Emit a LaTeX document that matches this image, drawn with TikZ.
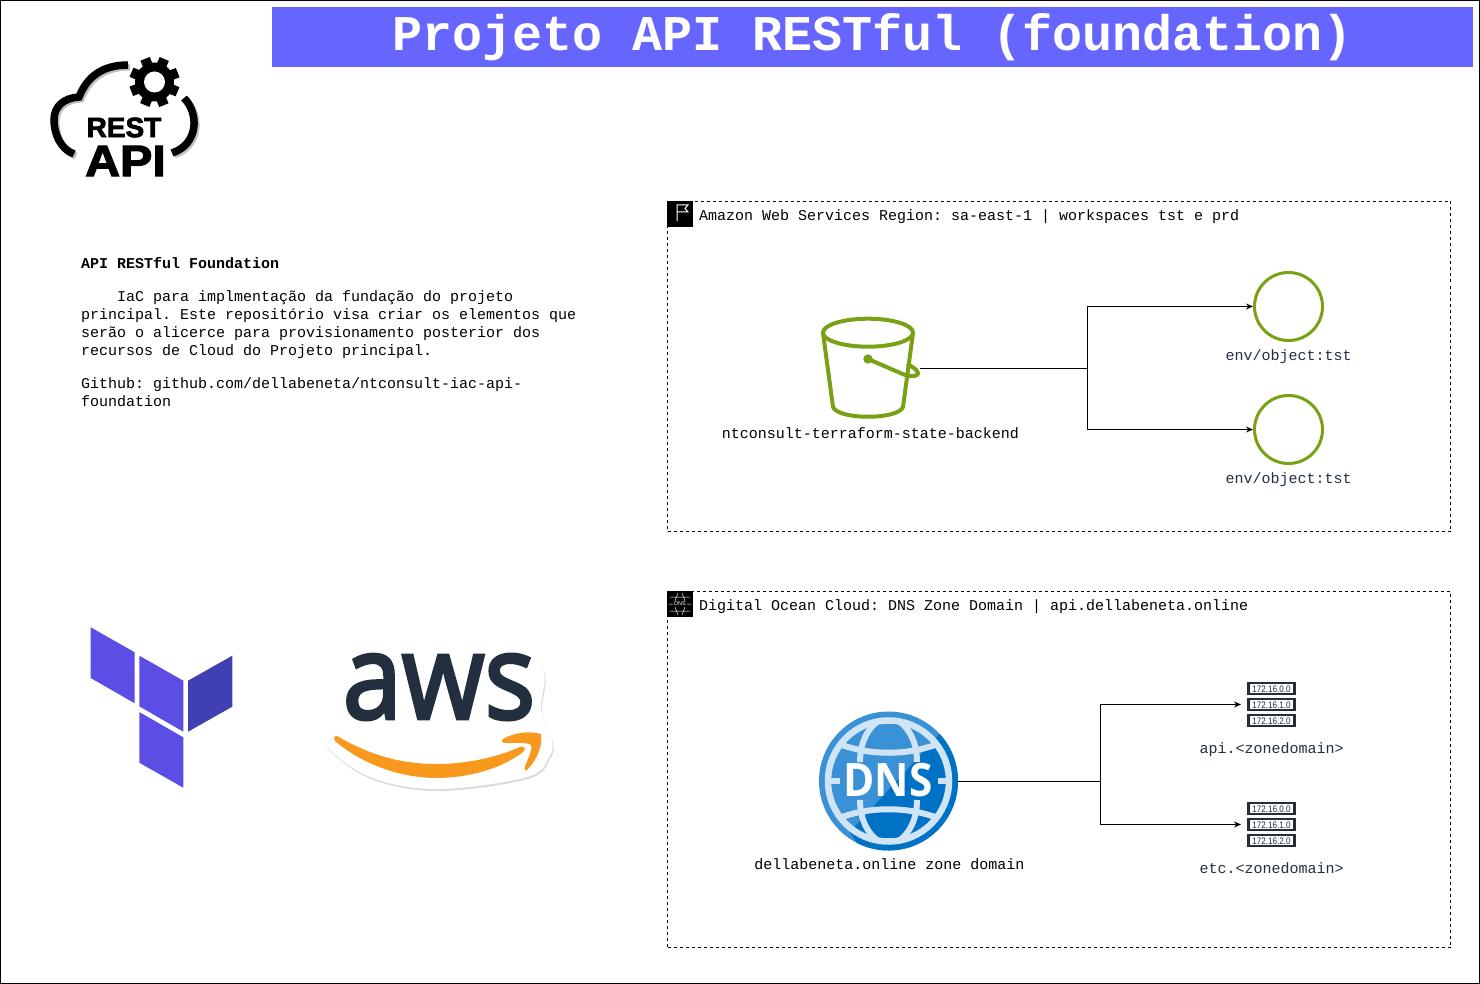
\documentclass[tikz,border=0pt]{standalone}
\usepackage{fontspec}
\setmainfont{Liberation Mono}
\newfontfamily\restfont{Liberation Sans}[BoldFeatures={FakeBold=2.5}]
\newfontfamily\ipfont{Liberation Sans}[FakeStretch=0.85]
\newfontfamily\logofont{Liberation Sans}
\newfontfamily\awsfont{Open Sans}[FakeBold=3]
\newfontfamily\dnsfont{Open Sans}
\usepackage{tikz}
\usetikzlibrary{arrows.meta}
\definecolor{titleblue}{HTML}{6666FF}
\definecolor{s3green}{HTML}{7AA116}
\definecolor{awsink}{HTML}{232F3E}
\definecolor{tfpurple}{HTML}{5C4EE5}
\definecolor{tfdark}{HTML}{4040B2}
\definecolor{awsorange}{HTML}{F8991D}
\definecolor{dnslight}{HTML}{3A91D6}
\definecolor{dnsdark}{HTML}{0072C6}
\definecolor{dnspale}{HTML}{CFE4F5}
\newcommand{\monosize}{\frenchspacing\fontsize{15}{18}\selectfont}

\begin{document}
\begin{tikzpicture}[x=1pt,y=-1pt,
  frame/.style={draw=black,dashed,dash pattern=on 3pt off 3pt,line width=0.8pt},
  body/.style={anchor=west,align=left,inner sep=0pt,font=\monosize},
  label/.style={inner sep=0pt,font=\monosize,text height=10.5pt,text depth=3.2pt},
  awslabel/.style={label,text=awsink},
  flow/.style={draw=black,line width=1pt,-{Stealth[length=7pt,width=6pt]}},
  objcircle/.style={circle,draw=s3green,line width=3pt,minimum size=68pt,inner sep=0pt},
  ipslot/.style={minimum width=61pt,minimum height=46pt,inner sep=0pt,outer sep=0pt},
  iprow/.style={draw=awsink,line width=2.1pt,fill=white,text=awsink,text width=46pt,align=center,
    text height=7pt,text depth=0pt,minimum height=11.5pt,inner sep=0pt,font=\ipfont\fontsize{9.5}{9.5}\selectfont},
  badge/.style={fill=black,minimum size=25.5pt,inner sep=0pt}]
\useasboundingbox (0,0) rectangle (1480,984);
\draw[line width=1pt] (0.5,0.5) rectangle (1479.5,983.5);

% title
\node[fill=titleblue,minimum width=1201pt,minimum height=60pt,inner sep=0pt,text=white,
  font=\bfseries\fontsize{50}{50}\selectfont] (title) at (872.5,37) {\raisebox{2.5pt}{Projeto API RESTful (foundation)}};

% rest logo
\draw[black!25,line width=7pt] (76,156) .. controls (62,151) and (56,135) .. (56,122)
  .. controls (56,108) and (66,100) .. (81,99) .. controls (89,79) and (104,67) .. (130,67);
\draw[black,line width=7.5pt] (74,154) .. controls (60,149) and (54,133) .. (54,120)
  .. controls (54,106) and (64,98) .. (79,97) .. controls (87,77) and (102,65) .. (128,65);
\draw[black!25,line width=7pt] (186,100) .. controls (201,115) and (201,146) .. (174,155);
\draw[black,line width=7.5pt] (184,98) .. controls (199,113) and (199,144) .. (172,153);
\foreach \ang in {0,45,...,315}
  \fill[black,rotate around={\ang+22:(154.5,82)}] (149.5,57) rectangle (159.5,70);
\fill[black] (154.5,82) circle (19.5);
\fill[white] (154.5,82) circle (10.5);
\node[font=\restfont\bfseries\fontsize{28}{28}\selectfont,inner sep=0pt] (resttext) at (124,127.5) {REST};
\node[font=\restfont\bfseries\fontsize{44}{44}\selectfont,inner sep=0pt,xscale=1.1] (apitext) at (125.5,161) {API};

% description
\node[body,font=\monosize\bfseries] (heading) at (81,263.5) {API RESTful Foundation};
\node[body] (descr) at (81,324.5) {\hspace*{36pt}IaC para implmentação da fundação do projeto\\
  principal. Este repositório visa criar os elementos que\\
  serão o alicerce para provisionamento posterior dos\\
  recursos de Cloud do Projeto principal.};
\node[body] (github) at (81,392.5) {Github: github.com/dellabeneta/ntconsult-iac-api-\\foundation};

% terraform logo
\fill[tfpurple] (90.7,627.3) -- (134.7,652.3) -- (134.7,703.3) -- (90.7,678) -- cycle;
\fill[tfpurple] (139.3,655.7) -- (183.3,680.7) -- (183.3,731.7) -- (139.3,706.3) -- cycle;
\fill[tfdark] (188,680.7) -- (232.3,655.7) -- (232.3,706.7) -- (188,731.7) -- cycle;
\fill[tfpurple] (139.3,712) -- (183.3,737.3) -- (183.3,787.7) -- (139.3,762.7) -- cycle;

% aws logo
\fill[black!14,xshift=1pt,yshift=-2pt] plot[smooth cycle,tension=0.6] coordinates {(340,668) (370,646) (405,652)
  (440,650) (480,650) (522,646) (544,672) (541,710) (552,740) (549,757) (527,777) (437,789) (370,777) (326,745)
  (335,727) (340,700)};
\fill[white] plot[smooth cycle,tension=0.6] coordinates {(340,668) (370,646) (405,652)
  (440,650) (480,650) (522,646) (544,672) (541,710) (552,740) (549,757) (527,777) (437,789) (370,777) (326,745)
  (335,727) (340,700)};
\node[font=\awsfont\fontsize{118}{118}\selectfont,text=awsink,inner sep=0pt,xscale=0.9] (awstext) at (439,687) {aws};
\fill[awsorange,line join=round] (337,736) .. controls (370,755) and (400,764) .. (437,764)
  .. controls (465,764) and (495,758) .. (520,747) .. controls (525,745) and (526,750) .. (523,752)
  .. controls (500,770) and (465,778) .. (437,778) .. controls (400,778) and (362,764) .. (335,741)
  .. controls (333,738) and (335,735) .. (337,736) -- cycle;
\fill[awsorange] (503,739) .. controls (515,732) and (530,731) .. (541,734) .. controls (543,745) and (537,760) .. (527,770)
  .. controls (524,771) and (524,768) .. (525,766) .. controls (529,757) and (533,748) .. (531,745)
  .. controls (527,742) and (515,743) .. (505,743) .. controls (502,743) and (501,741) .. (503,739) -- cycle;

% aws region
\node[frame,minimum width=783pt,minimum height=330pt,inner sep=0pt] (awsframe) at (1059,366.5) {};
\node[badge] (flagbadge) at (680,214) {};
\draw[white,line width=1pt] (677,221) -- (677,205) -- (688,205) -- (685,208.5) -- (688,212) -- (677,212);
\node[body] (awstitle) at (699,217) {Amazon Web Services Region: sa-east-1 | workspaces tst e prd};

\node[minimum width=104pt,minimum height=104pt,inner sep=0pt,outer sep=0pt] (bucket) at (868,368) {};
\begin{scope}[s3green,line width=4pt,line join=round]
  \draw (868,332.7) ellipse (45 and 14);
  \draw (823,333) -- (833,407) .. controls (838,420) and (898,420) .. (903,407) -- (913,333);
  \fill (868,359) circle (4.7);
  \draw (868,359) -- (905,375) .. controls (912,377) and (919,376) .. (918,373) .. controls (917,369) and (911,366) .. (907,364);
\end{scope}
\node[label] (bucketlabel) at (870.5,434.35) {ntconsult-terraform-state-backend};

\node[objcircle] (objtop) at (1288.5,306.5) {};
\node[objcircle] (objbottom) at (1288.5,429.5) {};
\node[awslabel] (objtoplabel) at (1288.5,356.35) {env/object:tst};
\node[awslabel] (objbottomlabel) at (1288.5,479.35) {env/object:tst};

\coordinate (bucketsplit) at (1087,368);
\draw[flow] (bucket.east) -- (bucketsplit) |- (objtop);
\draw[flow] (bucket.east) -- (bucketsplit) |- (objbottom);

% digital ocean
\node[frame,minimum width=783pt,minimum height=356pt,inner sep=0pt] (doframe) at (1059,769.5) {};
\node[badge] (dnsbadge) at (680,604) {};
\draw[white,line width=0.5pt] (670,597) -- (690,597) (670,611) -- (690,611) (669,604) -- (673,604) (687,604) -- (691,604)
  (678,593) -- (675,601) (682,593) -- (685,601) (678,615) -- (675,607) (682,615) -- (685,607);
\node[text=white,inner sep=0pt,font=\logofont\fontsize{5.5}{5.5}\selectfont] (dnsbadgetext) at (680,604) {DNS};
\node[body] (dotitle) at (699,607) {Digital Ocean Cloud: DNS Zone Domain | api.dellabeneta.online};

\node[circle,minimum size=139pt,inner sep=0pt,outer sep=0pt] (dns) at (888.5,781) {};
\fill[dnslight] (dns) circle (69.5);
\begin{scope}
  \clip (dns) circle (69.5);
  \fill[dnsdark] (945,728) -- (850,832) -- (880,880) -- (980,880) -- (980,728) -- cycle;
\end{scope}
\begin{scope}
  \clip (dns) circle (60);
  \draw[dnspale,line width=6pt] (830,740) .. controls (865,757) and (912,757) .. (947,740);
  \draw[dnspale,line width=6pt] (830,822) .. controls (865,805) and (912,805) .. (947,822);
  \draw[dnspale,line width=6pt] (888.5,716) .. controls (870,722) and (860,740) .. (860,762);
  \draw[dnspale,line width=6pt] (888.5,716) .. controls (907,722) and (917,740) .. (917,762);
  \draw[dnspale,line width=6pt] (888.5,846) .. controls (870,840) and (860,822) .. (860,800);
  \draw[dnspale,line width=6pt] (888.5,846) .. controls (907,840) and (917,822) .. (917,800);
  \draw[dnspale,line width=6pt] (825,781) -- (840,781) (938,781) -- (952,781);
\end{scope}
\draw[dnspale,line width=6.5pt] (dns) circle (60.5);
\node[font=\dnsfont\bfseries\fontsize{46}{46}\selectfont,text=white,inner sep=0pt,xscale=0.92] (dnstext) at (888,780) {DNS};
\node[label] (dnslabel) at (889.5,865.35) {dellabeneta.online zone domain};

\node[ipslot] (apiip) at (1271.5,704.5) {};
\node[iprow] (apirowa) at (1271.5,688.5) {172.16.0.0};
\node[iprow] (apirowb) at (1271.5,704.5) {172.16.1.0};
\node[iprow] (apirowc) at (1271.5,720.5) {172.16.2.0};
\node[awslabel] (apilabel) at (1271.5,749.35) {api.<zonedomain>};

\node[ipslot] (etcip) at (1271.5,824.5) {};
\node[iprow] (etcrowa) at (1271.5,808.5) {172.16.0.0};
\node[iprow] (etcrowb) at (1271.5,824.5) {172.16.1.0};
\node[iprow] (etcrowc) at (1271.5,840.5) {172.16.2.0};
\node[awslabel] (etclabel) at (1271.5,869.35) {etc.<zonedomain>};

\coordinate (dnssplit) at (1100,781);
\draw[flow] (dns.east) -- (dnssplit) |- (apiip);
\draw[flow] (dns.east) -- (dnssplit) |- (etcip);
\end{tikzpicture}
\end{document}
